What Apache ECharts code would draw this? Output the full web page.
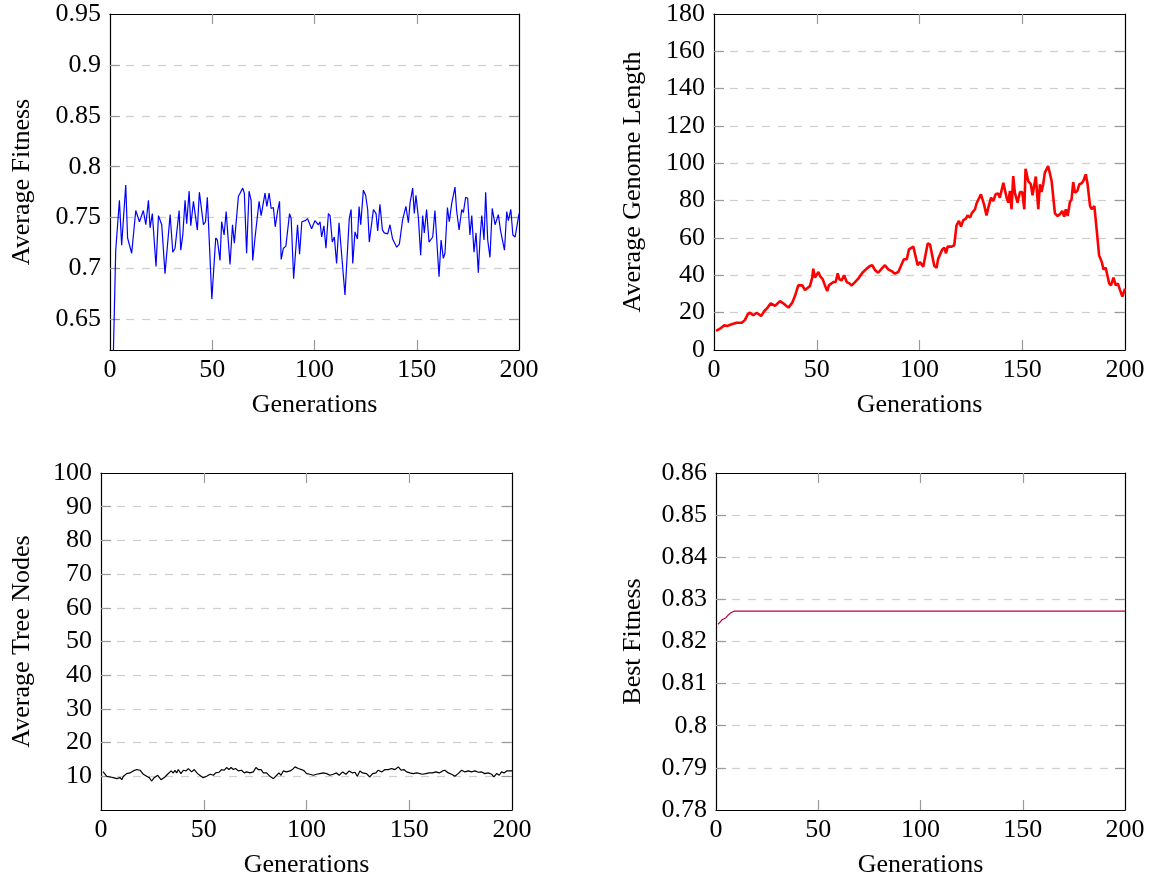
<!DOCTYPE html>
<html>
<head>
<meta charset="utf-8">
<script src="https://cdn.jsdelivr.net/npm/echarts@6/dist/echarts.min.js"></script>
<style>
html,body{margin:0;padding:0;background:#fff;}
#c{width:1153px;height:881px;}
</style>
</head>
<body>
<div id="c"></div>
<script>
// ---- Data ----
const fitnessGen = [1,2.8,4.6,5.7,6.5,7.7,8.6,10.6,12.6,14.4,16.3,17.5,18.8,19.6,20.7,22.5,23.7,25.3,26.9,29.4,30.7,31.8,33.8,34.6,35.6,36.7,37.5,38.7,39.5,40.8,42.7,43.7,44.5,45.7,46.7,47.6,49.8,51.7,52.5,53.8,54.6,55.8,56.8,58.7,59.9,60.8,62.8,63.6,64.9,65.7,66.8,68,69,69.8,70.9,72.9,73.9,74.7,75.8,76.7,77.8,78.8,79.9,80.8,82,82.9,83.7,84.8,86,87.8,88.6,89.8,91.7,92.7,93.8,95.4,96.6,98.6,100.2,101.9,102.7,103.5,104.6,105.6,106.8,107.6,108.7,109.7,110.8,112,113.3,114.9,117,117.9,118.7,119.8,121,121.8,122.6,123.9,125,126,126.8,127.6,128.8,130.1,130.9,132,133.2,134.1,134.9,135.8,136.9,138.2,140.2,141.5,143.1,143.9,144.7,145.9,146.7,148,148.8,149.6,150.8,151.9,152.9,153.7,154.8,156,157.8,158.9,159.8,160.9,161.9,163,163.8,165,165.9,167.1,168.7,169.5,170.7,172,172.8,173.9,174.9,176,176.9,178,179,180.1,181,181.8,182.9,183.7,184.7,185.8,186.9,188.3,189.9,191,191.9,192.9,194,194.8,196,197,198.1,199,200];
const fitnessVal = [0.56,0.718,0.767,0.723,0.722,0.782,0.73,0.715,0.757,0.746,0.757,0.743,0.767,0.74,0.754,0.702,0.752,0.743,0.695,0.753,0.716,0.72,0.757,0.718,0.733,0.767,0.744,0.776,0.742,0.766,0.738,0.775,0.774,0.743,0.746,0.77,0.67,0.73,0.728,0.708,0.746,0.733,0.756,0.704,0.743,0.725,0.771,0.774,0.779,0.774,0.715,0.776,0.767,0.708,0.73,0.766,0.752,0.753,0.774,0.761,0.774,0.759,0.76,0.741,0.757,0.766,0.709,0.72,0.722,0.754,0.749,0.69,0.743,0.714,0.746,0.747,0.749,0.739,0.747,0.743,0.746,0.731,0.742,0.72,0.754,0.752,0.726,0.731,0.705,0.745,0.713,0.674,0.749,0.758,0.705,0.736,0.729,0.761,0.743,0.777,0.772,0.758,0.726,0.725,0.758,0.754,0.737,0.763,0.738,0.735,0.736,0.734,0.743,0.729,0.721,0.724,0.748,0.749,0.761,0.745,0.764,0.779,0.754,0.772,0.75,0.713,0.752,0.735,0.758,0.726,0.731,0.757,0.758,0.692,0.728,0.71,0.715,0.76,0.746,0.764,0.78,0.757,0.738,0.758,0.755,0.77,0.769,0.733,0.752,0.716,0.735,0.696,0.731,0.752,0.728,0.775,0.728,0.711,0.759,0.743,0.753,0.737,0.738,0.718,0.756,0.747,0.758,0.733,0.731,0.731,0.754];

const genomeGen = [1,2.9,5,6.6,8.6,11,13.5,15,16.4,17.5,19.1,20.8,22.9,24.5,26.1,27.6,29.7,32.1,33.7,36.2,38.1,39.4,41,43,44.3,46.7,47.8,48.3,49.1,50.8,51.6,52.9,54,55.1,55.9,58.1,59.2,60.2,61,62.1,63.3,64.6,65.9,67,68.6,70.2,72.2,74.3,75.9,77,78.3,79.9,81.6,83.2,84.8,86.4,88,89.7,91.3,92.4,93.8,94.9,97,99.1,100.2,101.8,104,105.1,107.2,108.3,109.1,109.9,111.1,112.1,112.9,113.7,115.6,116.9,118,119.2,120.2,121.3,122.6,123.4,124.6,125.4,127,127.8,129.9,131.4,132.6,133.5,134.8,135.9,137,138.3,139.1,140.8,142.4,143.2,144,144.8,145.6,146.4,147.7,148.9,150,151,151.6,152.9,154.2,155,156.6,157.8,158.6,159.4,160.2,161,162.6,164.3,165.9,167.2,168.3,169.5,170.4,171.2,172.1,173.2,174,174.8,175.6,176.8,177.8,178.9,179.7,180.9,181.8,183,183.8,185.1,186.2,187.4,188.7,189.5,190.6,192.3,193.2,194.4,195.5,196.5,197.6,198.7,200];
const genomeVal = [10.2,11.4,13.2,12.9,13.8,14.6,14.6,16,19.1,20,18.6,20,18.2,20.9,22.7,25,23.6,26.2,25,22.7,25.4,28.9,34.6,34.6,32.1,34.3,38.8,43.6,38.8,41.8,39.6,37.9,34.6,31.6,34.6,36.4,36.4,41.1,37.9,37.3,40,36.4,35.7,34.6,36.4,38.2,41.4,43.6,45,45.4,42.9,41.4,43.6,45.4,43.2,42.3,40.9,41.8,45.9,48.6,48.6,53.9,55.4,45.4,47.1,44.6,57.1,56.6,45,44.1,48.9,48.6,53.9,54.8,51.8,55.4,55.4,56.1,66.8,69.1,66.1,69.6,70.4,72.1,70.9,73.2,75.4,78.6,83.4,78,72.1,76.3,81.6,79.8,83.4,83.9,81.6,89.6,81.6,78.9,85.2,75.4,93.2,84.3,78.9,84.6,84.6,75.4,97.1,90.5,88.8,82.9,92.9,75.4,88.8,84.6,88.8,95,98.6,90.5,73.2,71.8,72.7,74.5,71.4,75.4,71.8,79.3,80.7,90,84.3,85.2,88.8,89.3,90.5,94.1,88.8,77.1,75.4,77.1,64.6,50.7,47.1,43.2,44.1,35.7,34.6,38.8,34.6,35.7,32.1,28.6,32.9];

const nodesGen = [1,1.6,2.8,4.4,6,7.7,9.3,10.1,10.9,12.5,14.1,15.7,17.4,19,20.6,22.2,23.5,24.6,25.9,27.6,29.2,31.1,32.4,34.1,35.2,36,36.8,37.6,38.9,40.1,41.4,42.5,44.1,45.4,47,48.7,49.8,51.4,53.1,54.7,55.8,57.4,58.7,60,61.1,62.3,63.3,64.4,65.5,66.8,68.4,69.7,70.9,72.5,74.1,75.4,76.5,77.9,79,80.6,82.2,83.9,85.5,86.6,87.6,88.7,90.3,92,93.1,94.4,96,97.6,98.9,100,101.7,103.3,104.9,106.5,108.2,109.8,111.4,113,114.6,115.9,117.6,119.2,120.8,122.4,123.6,124.7,126,127.3,129.2,130.8,132.2,133.8,134.9,136.6,138.2,139.8,141.4,143.1,144.7,146,147.4,148.7,150.3,151.9,153.6,155.2,156.5,158.1,159.7,161.3,163,164.6,166.2,167.3,169,170.6,172.2,173.8,175.5,177.1,178.7,180.3,182,183.6,185.2,186.8,188.4,190.1,191.2,192.5,193.8,194.9,196.1,197.4,199,200];
const nodesVal = [11.4,11,10,9.8,9.6,9.3,9.6,9,10,10.8,11,11.6,12,11.8,10.6,10,9.6,8.6,9.6,10.3,9,9.8,10.6,11.6,11,11.8,11,12,10.8,11.8,11.6,12.3,11.3,12,10.8,10,9.6,10,10.6,10.3,11,11.2,12,11.8,12.6,12,12.6,12,12.3,11.6,11.8,11,11.3,11,11.3,12.6,12,12,11,11,10,9.3,10.3,11,10.3,11.6,11.3,11.6,12,12.8,12.3,12,11.6,10.8,10.6,10.3,10.6,10.8,11,10.8,10.3,10.6,11,10.3,11.3,10.6,11.6,11,11.2,10,11.6,11,10.8,9.8,10.8,11,11.8,11.3,12,12,12.3,12,12.8,11.8,12,11.3,11,10.8,11,10.8,10.6,10.8,11,11,11.3,11,11.6,11.8,11,10.6,10,10.8,11.8,11.3,11.6,11.3,11.6,11.2,11.3,10.8,11,10.6,9.8,10.8,10.3,11.3,11,11.6,11.6,11.6];

const bestGen = [1,2,3,4,5,6,7,8,9,10,200];
const bestVal = [0.8241,0.8246,0.8252,0.8254,0.8257,0.8263,0.8267,0.8270,0.8272,0.8272,0.8272];

const xTicks = {min: 0, max: 200, interval: 50};
const xInnerTicks = [50, 100, 150];
const yInnerTicks = [
  [0.65, 0.7, 0.75, 0.8, 0.85, 0.9],
  [20, 40, 60, 80, 100, 120, 140, 160],
  [10, 20, 30, 40, 50, 60, 70, 80, 90],
  [0.79, 0.8, 0.81, 0.82, 0.83, 0.84, 0.85]
];
const yNames = ['Average Fitness', 'Average Genome Length', 'Average Tree Nodes', 'Best Fitness'];
const xName = 'Generations';

// ---- Chart ----
const FONT = 'Liberation Serif';
const FS = 26;
const zip = (a, b) => a.map((v, i) => [v, b[i]]);

const grids = [
  {left: 110, top: 14, width: 409, height: 336},
  {left: 714, top: 14, width: 411, height: 336},
  {left: 101, top: 473, width: 411, height: 337},
  {left: 716, top: 473, width: 409, height: 337}
];

const yCfg = [
  {min: 0.62, max: 0.95, minInterval: 0.05, maxInterval: 0.05, showMin: false, nameGap: 75},
  {min: 0, max: 180, interval: 20, showMin: true, nameGap: 68},
  {min: 0, max: 100, interval: 10, showMin: false, nameGap: 66},
  {min: 0.78, max: 0.86, interval: 0.01, showMin: true, nameGap: 70}
];

const lineBlack = {color: '#000', width: 1.2};
const tickStyle = (vals) => ({show: true, inside: true, length: 10, customValues: vals,
  lineStyle: {color: '#9a9a9a', width: 1.2}});

const xAxis = [], yAxis = [];
grids.forEach((g, i) => {
  xAxis.push({
    gridIndex: i, type: 'value', position: 'bottom',
    min: xTicks.min, max: xTicks.max, interval: xTicks.interval,
    name: xName, nameLocation: 'middle', nameGap: 42,
    nameTextStyle: {fontFamily: FONT, fontSize: FS, color: '#000'},
    axisLine: {show: true, onZero: false, lineStyle: lineBlack},
    axisTick: tickStyle(xInnerTicks),
    axisLabel: {fontFamily: FONT, fontSize: FS, color: '#000', margin: 7},
    splitLine: {show: false}
  });
  xAxis.push({
    gridIndex: i, type: 'value', position: 'top',
    min: xTicks.min, max: xTicks.max, interval: xTicks.interval,
    axisLine: {show: true, onZero: false, lineStyle: lineBlack},
    axisTick: tickStyle(xInnerTicks),
    axisLabel: {show: false},
    splitLine: {show: false}
  });
  const c = yCfg[i];
  const base = {gridIndex: i, type: 'value', min: c.min, max: c.max};
  if (c.interval !== undefined) base.interval = c.interval;
  if (c.minInterval !== undefined) { base.minInterval = c.minInterval; base.maxInterval = c.maxInterval; }
  yAxis.push(Object.assign({}, base, {
    position: 'left',
    name: yNames[i], nameLocation: 'middle', nameGap: c.nameGap,
    nameTextStyle: {fontFamily: FONT, fontSize: FS, color: '#000'},
    axisLine: {show: true, onZero: false, lineStyle: lineBlack},
    axisTick: tickStyle(yInnerTicks[i]),
    axisLabel: {fontFamily: FONT, fontSize: FS, color: '#000', margin: 9, showMinLabel: c.showMin},
    splitLine: {show: true, lineStyle: {color: '#cfcfcf', width: 1.2, type: [8, 8]}}
  }));
  yAxis.push(Object.assign({}, base, {
    position: 'right',
    axisLine: {show: true, onZero: false, lineStyle: lineBlack},
    axisTick: tickStyle(yInnerTicks[i]),
    axisLabel: {show: false},
    splitLine: {show: false}
  }));
});

const mkSeries = (i, data, color, width) => ({
  type: 'line', xAxisIndex: 2 * i, yAxisIndex: 2 * i,
  data: data, showSymbol: false, symbol: 'none', clip: true,
  lineStyle: {color: color, width: width}, itemStyle: {color: color},
  silent: true, z: 1
});

const option = {
  animation: false,
  backgroundColor: '#fff',
  grid: grids.map(g => Object.assign({containLabel: false}, g)),
  xAxis: xAxis,
  yAxis: yAxis,
  series: [
    mkSeries(0, zip(fitnessGen, fitnessVal), '#0000ff', 1.2),
    mkSeries(1, zip(genomeGen, genomeVal), '#ff0000', 2.6),
    mkSeries(2, zip(nodesGen, nodesVal), '#000000', 1.2),
    mkSeries(3, zip(bestGen, bestVal), '#bf0040', 1.2)
  ]
};

const chart = echarts.init(document.getElementById('c'), null, {renderer: 'canvas'});
chart.setOption(option);
</script>
</body>
</html>
